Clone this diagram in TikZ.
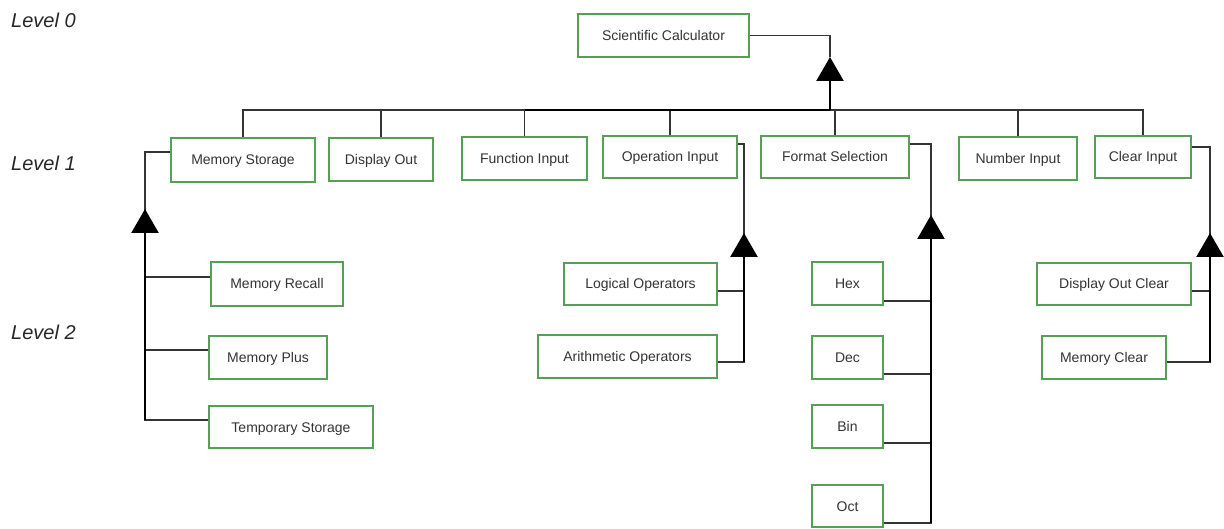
\documentclass[tikz,border=0pt]{standalone}
\usepackage{fontspec}
\setmainfont{Liberation Sans}
\usetikzlibrary{arrows.meta}
\definecolor{boxgreen}{RGB}{86,160,86}
\definecolor{inkgray}{RGB}{52,52,52}
\begin{document}
\begin{tikzpicture}[x=1bp,y=-1bp,
  box/.style={draw=boxgreen, line width=1.6bp, fill=white, inner sep=0pt,
    text height=10bp, text depth=0bp,
    text=inkgray, font=\fontsize{14bp}{16bp}\selectfont},
  wire/.style={draw=inkgray, line width=1.5bp},
  stem/.style={draw=black, line width=2.4bp, -{Triangle[width=27bp,length=24bp]}},
  levellabel/.style={anchor=west, inner sep=0pt, text=black!85,
    font=\fontsize{20bp}{24bp}\selectfont\itshape}]
\useasboundingbox (0,0) rectangle (1224,529);

% level captions
\node[levellabel] (l0) at (11,20) {Level 0};
\node[levellabel] (l1) at (11,163) {Level 1};
\node[levellabel] (l2) at (11,332) {Level 2};

% level 0
\node[box, minimum width=171bp, minimum height=43bp] (sc) at (663.5,35.5) {Scientific Calculator};

% level 1
\node[box, minimum width=144bp, minimum height=44bp] (ms) at (243,160) {Memory Storage};
\node[box, minimum width=104bp, minimum height=43bp] (dout) at (381,159.5) {Display Out};
\node[box, minimum width=125bp, minimum height=43bp] (fi) at (524.5,158.5) {Function Input};
\node[box, minimum width=134bp, minimum height=42bp] (oi) at (670,157) {Operation Input};
\node[box, minimum width=148bp, minimum height=42bp] (fs) at (835,157) {Format Selection};
\node[box, minimum width=118bp, minimum height=43bp] (ni) at (1018,158.5) {Number Input};
\node[box, minimum width=96bp, minimum height=42bp] (ci) at (1143,157) {Clear Input};

% level 2: memory
\node[box, minimum width=132bp, minimum height=44bp] (mr) at (277,284) {Memory Recall};
\node[box, minimum width=118bp, minimum height=43bp] (mp) at (268,357.5) {Memory Plus};
\node[box, minimum width=164bp, minimum height=42bp] (ts) at (291,427) {Temporary Storage};
% level 2: operations
\node[box, minimum width=153bp, minimum height=42bp] (lo) at (640.5,284) {Logical Operators};
\node[box, minimum width=179bp, minimum height=43bp] (ao) at (627.5,356.5) {Arithmetic Operators};
% level 2: formats
\node[box, minimum width=71bp, minimum height=43bp] (hex) at (847.5,283.5) {Hex};
\node[box, minimum width=71bp, minimum height=43bp] (dec) at (847.5,357.5) {Dec};
\node[box, minimum width=71bp, minimum height=43bp] (bin) at (847.5,426.5) {Bin};
\node[box, minimum width=71bp, minimum height=42bp] (oct) at (847.5,506) {Oct};
% level 2: clearing
\node[box, minimum width=154bp, minimum height=42bp] (doc) at (1114,284) {Display Out Clear};
\node[box, minimum width=124bp, minimum height=43bp] (mc) at (1104,357.5) {Memory Clear};

% junction points and arrow tips
\coordinate (bus) at (830,110);
\coordinate (ttip) at (830,57);
\coordinate (mtip) at (145,209);
\coordinate (mbot) at (145,420);
\coordinate (otip) at (744,233);
\coordinate (obot) at (744,362);
\coordinate (ftip) at (931,215);
\coordinate (fbot) at (931,523);
\coordinate (ctip) at (1210,233);
\coordinate (cbot) at (1210,362);

% level 1 to level 0
\draw[wire] (sc.east) -| (ttip);
\draw[wire] (ms.north) |- (bus) -| (ci.north);
\draw[wire] (dout.north) -- (dout.north |- bus);
\draw[wire] (fi.north) -- (fi.north |- bus);
\draw[wire] (oi.north) -- (oi.north |- bus);
\draw[wire] (fs.north) -- (fs.north |- bus);
\draw[wire] (ni.north) -- (ni.north |- bus);
\draw[draw=black, line width=2.2bp] (fi.north |- bus) -- (bus);
\draw[stem] (bus) -- (ttip);

% memory group
\draw[wire] ([yshift=8bp]ms.west) -| (mtip);
\draw[wire] ([yshift=7bp]mr.west) -| (mtip);
\draw[wire] ([yshift=7.5bp]mp.west) -| (mtip);
\draw[wire] ([yshift=7bp]ts.west) -| (mtip);
\draw[stem] (mbot) -- (mtip);

% operation group
\draw[wire] ([yshift=13bp]oi.east) -| (otip);
\draw[wire] ([yshift=-7bp]lo.east) -| (otip);
\draw[wire] ([yshift=-5.5bp]ao.east) -| (otip);
\draw[stem] (obot) -- (otip);

% format group
\draw[wire] ([yshift=13bp]fs.east) -| (ftip);
\draw[wire] ([yshift=-17.5bp]hex.east) -| (ftip);
\draw[wire] ([yshift=-16.5bp]dec.east) -| (ftip);
\draw[wire] ([yshift=-16.5bp]bin.east) -| (ftip);
\draw[wire] ([yshift=-17bp]oct.east) -| (ftip);
\draw[stem] (fbot) -- (ftip);

% clear group
\draw[wire] ([yshift=10bp]ci.east) -| (ctip);
\draw[wire] ([yshift=-7bp]doc.east) -| (ctip);
\draw[wire] ([yshift=-4.5bp]mc.east) -| (ctip);
\draw[stem] (cbot) -- (ctip);
\end{tikzpicture}
\end{document}
